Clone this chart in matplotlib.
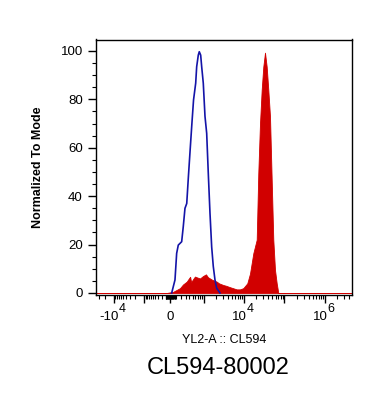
import numpy as np
import matplotlib
matplotlib.use("Agg")
import matplotlib.pyplot as plt
from matplotlib.ticker import FixedLocator, NullFormatter

plt.rcParams['font.family'] = ['Liberation Sans', 'DejaVu Sans']

# ---- data (fluorescence value, % of mode) ----
control_x = [29, 86, 116, 146, 179, 213, 247, 286, 329, 372, 421, 475, 530,
             608, 647, 715, 760, 827, 879, 967, 1070, 1182, 1298, 1433, 1581,
             1734, 1913, 2109, 2548]
control_y = [0, 5.4, 16.4, 19.8, 20.5, 21.2, 27.4, 35, 37, 48, 59, 70, 79.8,
             86.7, 93.5, 98.3, 99.7, 98.3, 93.5, 86.7, 73, 66, 49.5, 33, 19,
             11, 5.4, 2, 0]

sample_x = [-38000, -75, 56, 179, 241, 329, 363, 421, 452, 530, 581, 647, 793, 950,
            1134, 1275, 1433, 1610, 2109, 2405, 3078, 3590, 4508, 5350, 6601,
            7970, 9614, 12070, 14075, 16983, 20600, 22560, 24850, 27370, 29980,
            33020, 36360, 39840, 43870, 48330, 52950, 58330, 64250, 70390, 4600000]
sample_y = [0, 0, 0.5, 2, 3.5, 4.7, 5.5, 6.7, 4.5, 6, 6.8, 6.5, 6, 7,
            7.7, 6.5, 6, 5.5, 4.7, 4, 3.3, 3, 2.4, 2, 1.5,
            1.5, 2, 4, 8, 16.4, 22, 49.5, 70, 84, 93.5,
            99.3, 93.5, 84, 73, 46.7, 22, 9.5, 4, 0, 0]

major_ticks = [-1e4, -1e3, 0, 1e3, 1e4, 1e5, 1e6]
label_ticks = [-1e4, 0, 1e4, 1e6]
label_base = ['-10', '0', '10', '10']
label_exp = ['4', '', '4', '6']
y_major = [0, 20, 40, 60, 80, 100]

title = "CL594-80002"
xlabel = "YL2-A :: CL594"
ylabel = "Normalized To Mode"

# ---- biexponential-like scale ----
C = 298.0
NEG = 0.757

def fwd(x):
    x = np.asarray(x, dtype=float)
    return np.where(x >= 0, np.arcsinh(np.abs(x) / C), -NEG * np.arcsinh(np.abs(x) / C))

def inv(y):
    y = np.asarray(y, dtype=float)
    return np.where(y >= 0, C * np.sinh(np.abs(y)), -C * np.sinh(np.abs(y) / NEG))

fig = plt.figure(figsize=(3.72, 4.07), dpi=100)
ax = fig.add_axes([96/372, 1 - 294.5/407, 256/372, 255/407])
ax.set_xscale('function', functions=(fwd, inv))

ax.fill_between(sample_x, sample_y, 0, color='#d10000', linewidth=0.6, edgecolor='#d10000')
ax.plot(control_x, control_y, color='#1414a8', linewidth=1.2)

ax.set_xlim(-38500, 4.64e6)
ax.set_ylim(-0.62, 104.75)

ax.xaxis.set_major_locator(FixedLocator(major_ticks))
ax.xaxis.set_major_formatter(NullFormatter())
minor = []
for k in range(1, 7):
    for m in range(2, 10):
        minor.append(m * 10**k)
for k in range(1, 4):
    for m in range(2, 10):
        minor.append(-m * 10**k)
minor += [10, 100, -10, -100, -2e4, -3e4]
ax.xaxis.set_minor_locator(FixedLocator(minor))

ax.yaxis.set_major_locator(FixedLocator(y_major))
ax.yaxis.set_minor_locator(FixedLocator(list(range(0, 105, 5))))

ax.tick_params(axis='both', which='major', direction='out', length=6, width=1,
               labelsize=9.5, colors='black')
ax.tick_params(axis='both', which='minor', direction='out', length=3, width=0.8)

# x tick labels: base + large superscript
trans = ax.get_xaxis_transform()
for xt, b, e in zip(label_ticks, label_base, label_exp):
    if e:
        shift = 3.2 if b.startswith('-') else 1.8
        ax.annotate(b, xy=(xt, 0), xycoords=trans, xytext=(shift, -16.5),
                    textcoords='offset points', ha='right', va='center',
                    fontsize=9.5, annotation_clip=False)
        ax.annotate(e, xy=(xt, 0), xycoords=trans, xytext=(shift, -10.4),
                    textcoords='offset points', ha='left', va='center',
                    fontsize=9, annotation_clip=False)
    else:
        ax.annotate(b, xy=(xt, 0), xycoords=trans, xytext=(0, -16.5),
                    textcoords='offset points', ha='center', va='center',
                    fontsize=9.5, annotation_clip=False)

for s in ax.spines.values():
    s.set_linewidth(1.0)
    s.set_color('black')

ax.set_ylabel(ylabel, fontsize=9, fontweight='bold', labelpad=12)
fig.text(224/372, 1 - 340/407, xlabel, fontsize=9, ha='center', va='center')
fig.text(218/372, 1 - 368/407, title, fontsize=17, ha='center', va='center')

fig.savefig('out.png', dpi=100)
